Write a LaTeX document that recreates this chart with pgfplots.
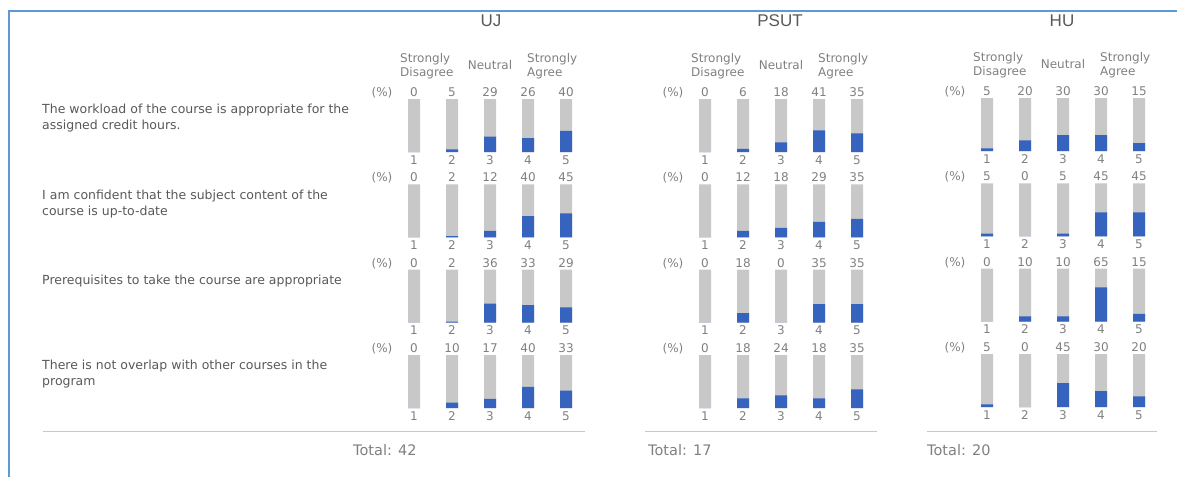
\documentclass[border=0pt]{standalone}
\usepackage{pgfplots}
\pgfplotsset{compat=1.18}
\usepackage{fontspec}
\setmainfont{DejaVu Sans}
\newfontfamily\titlefont{Liberation Sans}
\definecolor{gbar}{HTML}{C8C8C8}
\definecolor{bbar}{HTML}{3663BE}
\definecolor{numc}{HTML}{808080}
\definecolor{qc}{HTML}{595959}
\definecolor{framec}{HTML}{5B9BD5}
\definecolor{sepc}{HTML}{C8C8C8}
\newcommand{\sm}{\fontsize{12}{14}\selectfont}
\newcommand{\qf}{\fontsize{12.5}{15}\selectfont}
\newcommand{\mini}[7]{%
\begin{axis}[at={(#1pt,-#2pt)}, anchor=south west, scale only axis, width=190pt, height=53pt,
 xmin=0.5, xmax=5.5, ymin=0, ymax=100, axis line style={draw=none}, ytick=\empty,
 xtick={1,2,3,4,5}, major tick length=0pt, tick style={draw=none}, clip=false,
 /pgf/number format/assume math mode=true,
 ybar, bar width=12pt, bar shift=0pt,
 xticklabel style={font=\sm, text=numc, anchor=base, yshift=-12pt, inner sep=0pt},
 nodes near coords style={font=\sm, text=numc, anchor=base, yshift=2.5pt, inner sep=0pt}]
\addplot[fill=gbar, draw=none, nodes near coords, point meta=explicit symbolic]
  coordinates {(1,100)[#3] (2,100)[#4] (3,100)[#5] (4,100)[#6] (5,100)[#7]};
\addplot[fill=bbar, draw=none] coordinates {(1,#3) (2,#4) (3,#5) (4,#6) (5,#7)};
\end{axis}}
\begin{document}
\begin{tikzpicture}[x=1pt,y=-1pt]
\path[use as bounding box] (0,0) rectangle (1177,477);
\draw[framec, line width=2pt] (8.5,477) -- (8.5,11) -- (1177,11);
% titles
\node[anchor=base, inner sep=0pt, text=qc, font=\titlefont\fontsize{17}{20}\selectfont] at (491,26.7) {UJ};
\node[anchor=base, inner sep=0pt, text=qc, font=\titlefont\fontsize{17}{20}\selectfont] at (780,26.7) {PSUT};
\node[anchor=base, inner sep=0pt, text=qc, font=\titlefont\fontsize{17}{20}\selectfont] at (1062,26.7) {HU};
% headers and (%)
\foreach \dx/\dy in {0/0, 291/0, 573/-1}{
  \node[anchor=base west, inner sep=0pt, text=numc, font=\sm] at (400+\dx,62+\dy) {Strongly};
  \node[anchor=base west, inner sep=0pt, text=numc, font=\sm] at (400+\dx,76.5+\dy) {Disagree};
  \node[anchor=base, inner sep=0pt, text=numc, font=\sm] at (490+\dx,69.3+\dy) {Neutral};
  \node[anchor=base west, inner sep=0pt, text=numc, font=\sm] at (527+\dx,62+\dy) {Strongly};
  \node[anchor=base west, inner sep=0pt, text=numc, font=\sm] at (527+\dx,76.5+\dy) {Agree};
  \foreach \ry in {0,85.3,170.7,256}{
    \node[anchor=base, inner sep=0pt, text=numc, font=\sm] at (382+\dx,96.5+\ry+\dy) {(\%)};
  }
}
% questions
\node[anchor=base west, inner sep=0pt, text=qc, font=\qf] at (42,113.5) {The workload of the course is appropriate for the};
\node[anchor=base west, inner sep=0pt, text=qc, font=\qf] at (42,129.5) {assigned credit hours.};
\node[anchor=base west, inner sep=0pt, text=qc, font=\qf] at (42,199.3) {I am confident that the subject content of the};
\node[anchor=base west, inner sep=0pt, text=qc, font=\qf] at (42,215.3) {course is up-to-date};
\node[anchor=base west, inner sep=0pt, text=qc, font=\qf] at (42,284.3) {Prerequisites to take the course are appropriate};
\node[anchor=base west, inner sep=0pt, text=qc, font=\qf] at (42,369.3) {There is not overlap with other courses in the};
\node[anchor=base west, inner sep=0pt, text=qc, font=\qf] at (42,385.3) {program};
% UJ
\mini{395}{152}{0}{5}{29}{26}{40}
\mini{395}{237.3}{0}{2}{12}{40}{45}
\mini{395}{322.7}{0}{2}{36}{33}{29}
\mini{395}{408}{0}{10}{17}{40}{33}
% PSUT
\mini{686}{152}{0}{6}{18}{41}{35}
\mini{686}{237.3}{0}{12}{18}{29}{35}
\mini{686}{322.7}{0}{18}{0}{35}{35}
\mini{686}{408}{0}{18}{24}{18}{35}
% HU
\mini{968}{151}{5}{20}{30}{30}{15}
\mini{968}{236.3}{5}{0}{5}{45}{45}
\mini{968}{321.7}{0}{10}{10}{65}{15}
\mini{968}{407}{5}{0}{45}{30}{20}
% separators and totals
\draw[sepc, line width=1pt] (43,431) -- (585,431);
\draw[sepc, line width=1pt] (645,431) -- (877,431);
\draw[sepc, line width=1pt] (927,431) -- (1157,431);
\node[anchor=base west, inner sep=0pt, text=numc, font=\fontsize{14.5}{17}\selectfont] at (353,455) {Total: 42};
\node[anchor=base west, inner sep=0pt, text=numc, font=\fontsize{14.5}{17}\selectfont] at (648,455) {Total: 17};
\node[anchor=base west, inner sep=0pt, text=numc, font=\fontsize{14.5}{17}\selectfont] at (927,455) {Total: 20};
\end{tikzpicture}
\end{document}
